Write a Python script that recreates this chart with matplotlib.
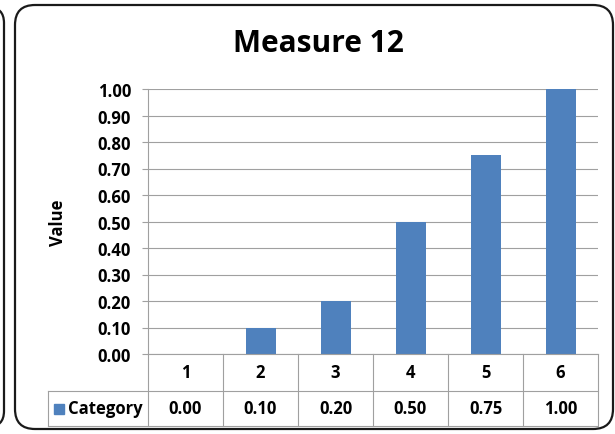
import matplotlib
matplotlib.use("Agg")
import matplotlib.pyplot as plt
from matplotlib.patches import FancyBboxPatch
from matplotlib.transforms import blended_transform_factory
import numpy as np

title = "Measure 12"
y_label = "Value"
series_name = "Category"
categories = ["1", "2", "3", "4", "5", "6"]
values = [0.00, 0.10, 0.20, 0.50, 0.75, 1.00]
y_ticks = [0.0, 0.1, 0.2, 0.3, 0.4, 0.5, 0.6, 0.7, 0.8, 0.9, 1.0]

W, H = 615, 435
DPI = 100
BAR = "#4F81BD"
GRID = "#A0A0A0"
FONT = ["Open Sans", "DejaVu Sans"]
FS = 12

fig = plt.figure(figsize=(W / DPI, H / DPI), dpi=DPI)
fig.patch.set_facecolor("white")

def px_box(x0, y0, x1, y1, r):
    # coordinates in pixels from top-left
    return FancyBboxPatch((x0 / DPI, (H - y1) / DPI), (x1 - x0) / DPI, (y1 - y0) / DPI,
                          boxstyle=f"round,pad=0,rounding_size={r / DPI}",
                          transform=fig.dpi_scale_trans, fill=False,
                          edgecolor="#1a1a1a", linewidth=1.6, zorder=10, clip_on=False)

fig.patches.append(px_box(-120, 8, 4, 428, 16))
fig.patches.append(px_box(15, 6, 613, 430, 20))

# plot area (pixels): left 148, right 598, top 90, bottom 355
L, R, T, B = 148, 598, 90, 355
ax = fig.add_axes([L / W, (H - B) / H, (R - L) / W, (B - T) / H])
n = len(categories)
x = np.arange(n)
ax.bar(x, values, width=0.4, color=BAR, zorder=3)
ax.set_xlim(-0.5, n - 0.5)
ax.set_ylim(0, 1.0)
ax.set_yticks(y_ticks)
ax.set_yticklabels([f"{t:.2f}" for t in y_ticks], fontsize=FS, fontweight="bold", family=FONT)
ax.tick_params(axis="y", length=4.3, width=0.8, color=GRID, pad=8.0)
ax.set_xticks([])
ax.grid(axis="y", color=GRID, linewidth=0.8, zorder=0)
for s in ["top", "right", "bottom"]:
    ax.spines[s].set_visible(False)
ax.spines["left"].set_color(GRID)
ax.spines["left"].set_linewidth(0.8)
ax.set_axisbelow(True)

ax.set_ylabel(y_label, fontsize=FS, fontweight="bold", family=FONT, labelpad=22)
fig.text(318 / W, (H - 44) / H, title, ha="center", va="center", fontsize=21.5,
         fontweight="bold", family=FONT)

# data table
tr = blended_transform_factory(ax.transData, ax.transAxes)
ph = B - T
r1 = -(392 - B) / ph
r2 = -(427 - B) / ph
unit = (R - L) / n
leg_left = -0.5 - (L - 48) / unit
lkw = dict(color=GRID, linewidth=0.8, transform=tr, clip_on=False, zorder=4)
ax.plot([-0.5, n - 0.5], [0, 0], **lkw)
ax.plot([leg_left, n - 0.5], [r1, r1], **lkw)
ax.plot([leg_left, n - 0.5], [r2, r2], **lkw)
ax.plot([leg_left, leg_left], [r1, r2], **lkw)
for b in np.arange(n + 1) - 0.5:
    ax.plot([b, b], [0, r2], **lkw)
tkw = dict(transform=tr, ha="center", va="center", fontsize=FS, fontweight="bold",
           family=FONT, clip_on=False)
for i, (c, v) in enumerate(zip(categories, values)):
    ax.text(i, r1 / 2, c, **tkw)
    ax.text(i, (r1 + r2) / 2, f"{v:.2f}", **tkw)
# legend key + name
key_w = 10 / unit
kx = leg_left + 6 / unit
ax.add_patch(plt.Rectangle((kx, (r1 + r2) / 2 - 5 / ph), key_w, 10 / ph, transform=tr,
                           color=BAR, clip_on=False, zorder=5))
ax.text(kx + key_w + 4 / unit, (r1 + r2) / 2, series_name, transform=tr, ha="left",
        va="center", fontsize=FS, fontweight="bold", family=FONT, clip_on=False)

fig.savefig("out.png", dpi=DPI)
